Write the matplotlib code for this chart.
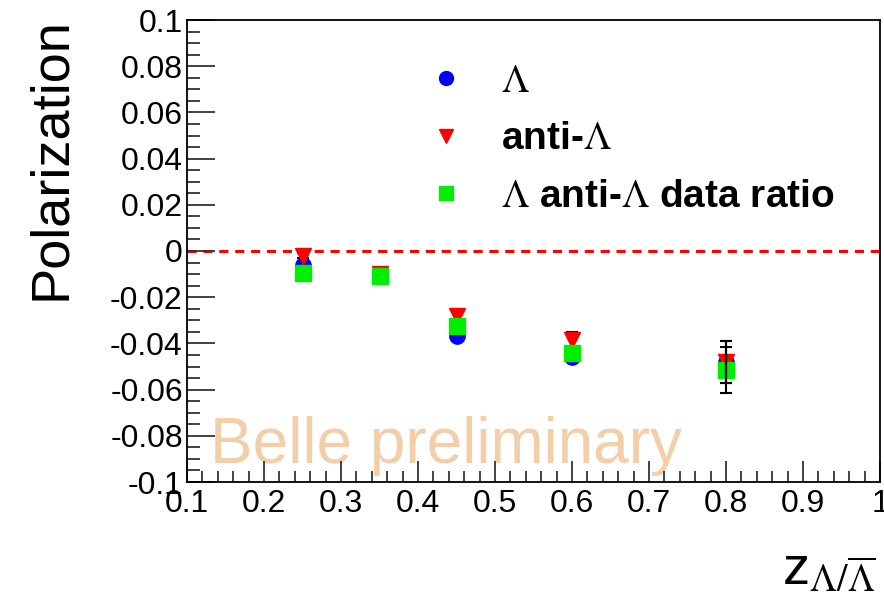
import numpy as np
import matplotlib
matplotlib.use("Agg")
import matplotlib.pyplot as plt
from matplotlib.ticker import MultipleLocator
from matplotlib.lines import Line2D

plt.rcParams["font.family"] = ["Liberation Sans", "DejaVu Sans"]
plt.rcParams["mathtext.fontset"] = "stix"

# z bins and polarization values
z = np.array([0.25, 0.35, 0.45, 0.60, 0.80])

lam = np.array([-0.006, -0.011, -0.037, -0.046, -0.048])
lam_err = np.array([0.001, 0.001, 0.002, 0.002, 0.009])

anti = np.array([-0.002, -0.010, -0.028, -0.0385, -0.048])
anti_err = np.array([0.001, 0.001, 0.0025, 0.0035, 0.009])

ratio = np.array([-0.0095, -0.011, -0.0325, -0.044, -0.0515])
ratio_err = np.array([0.001, 0.001, 0.002, 0.002, 0.010])

labels = [r"$\Lambda$", r"anti-$\Lambda$", r"$\Lambda$ anti-$\Lambda$ data ratio"]

fig = plt.figure(figsize=(8.84, 6.10), dpi=100)
ax = fig.add_axes([187 / 884, 1 - 482 / 610, 693 / 884, 462 / 610])

ax.set_xlim(0.1, 1.0)
ax.set_ylim(-0.1, 0.1)

# zero line
ax.axhline(0, color="red", lw=2.2, ls=(0, (3, 2.2)), zorder=1)

series = [
    (lam, lam_err, "o", "blue"),
    (anti, anti_err, "v", "red"),
    (ratio, ratio_err, "s", "#00ee00"),
]
for vals, errs, mk, col in series:
    small = errs < 0.005
    ax.errorbar(z[small], vals[small], yerr=errs[small], fmt="none", ecolor="black",
                elinewidth=1.5, capsize=4, capthick=1.5, zorder=2)
    ax.plot(z, vals, ls="none", marker=mk, ms=11, color=col, mec=col, zorder=3)
    ax.errorbar(z[~small], vals[~small], yerr=errs[~small], fmt="none", ecolor="black",
                elinewidth=1.5, capsize=4, capthick=1.5, zorder=4)

handles = [Line2D([], [], ls="none", marker=mk, ms=10, color=col)
           for _, _, mk, col in series]
leg = ax.legend(handles, labels, loc="upper left", bbox_to_anchor=(0.318, 0.947),
                frameon=False, prop={"size": 28, "weight": "bold"},
                handlelength=1.0, handletextpad=0.9, labelspacing=0.55, borderpad=0)

ax.text(0.13, -0.0918, "Belle preliminary", fontsize=46, color="#F2CFA8",
        ha="left", va="baseline", zorder=0)

ax.xaxis.set_minor_locator(MultipleLocator(0.02))
ax.yaxis.set_minor_locator(MultipleLocator(0.005))
ax.set_xticks(np.arange(0.1, 1.01, 0.1))
ax.set_xticklabels(["0.1", "0.2", "0.3", "0.4", "0.5", "0.6", "0.7", "0.8", "0.9", "1"])
ax.set_yticks(np.arange(-0.1, 0.101, 0.02))
ax.set_yticklabels(["-0.1", "-0.08", "-0.06", "-0.04", "-0.02", "0",
                    "0.02", "0.04", "0.06", "0.08", "0.1"])

ax.tick_params(which="both", direction="in", top=False, right=False, labelsize=23,
               width=1.3, color="#333333")
ax.tick_params(axis="y", which="major", length=20, pad=3)
ax.tick_params(axis="y", which="minor", length=9)
ax.tick_params(axis="x", which="major", length=15, pad=5)
ax.tick_params(axis="x", which="minor", length=8)
for sp in ax.spines.values():
    sp.set_linewidth(1.3)

ax.set_ylabel("Polarization", fontsize=39)
ax.yaxis.set_label_coords(-0.16, 0.70)
ax.set_xlabel(r"z$_{\Lambda/\overline{\Lambda}}$", fontsize=39, loc="right")
ax.xaxis.set_label_coords(0.994, -0.135)

fig.savefig("out.png", dpi=100)
